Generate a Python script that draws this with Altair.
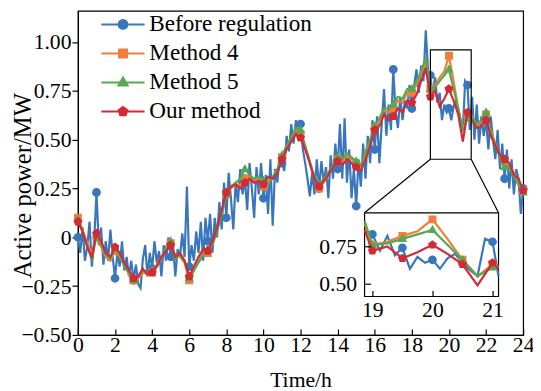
import altair as alt
import numpy as np
import pandas as pd

SERIES = ["Before regulation", "Method 4", "Method 5", "Our method"]
COLORS = ["#3a76bb", "#ef7f3a", "#56a950", "#d42a35"]

# Before regulation, sampled every 0.125 h (8 values per hour)
before = [
    0.00, -0.08, 0.05, -0.12, -0.05, 0.08, -0.15, -0.02,
    0.23, -0.04, 0.05, -0.14, -0.02, -0.12, 0.04, -0.10,
    -0.21, -0.08, -0.15, -0.02, -0.17, -0.10, -0.20, -0.12,
    -0.22, -0.14, -0.24, -0.26, -0.11, -0.04, -0.20, -0.08,
    -0.16, -0.02, -0.13, -0.07, -0.20, -0.04, -0.12, 0.00,
    -0.10, -0.04, -0.20, -0.06, -0.10, 0.02, -0.10, 0.26,
    -0.15, -0.04, -0.12, 0.03, -0.08, 0.08, -0.12, 0.10,
    -0.02, 0.12, -0.08, 0.10, 0.00, 0.18, 0.04, 0.28,
    0.10, 0.33, 0.20, 0.04, 0.28, 0.18, 0.35, 0.22,
    0.30, 0.14, 0.38, 0.25, 0.10, 0.36, 0.22, 0.38,
    0.20, 0.32, 0.12, 0.40, 0.06, 0.35, 0.28, 0.42,
    0.38, 0.34, 0.52, 0.44, 0.58, 0.48, 0.60, 0.50,
    0.58, 0.45, 0.38, 0.30, 0.21, 0.33, 0.22, 0.40,
    0.25, 0.39, 0.28, 0.36, 0.20, 0.42, 0.30, 0.48,
    0.35, 0.58, 0.30, 0.61, 0.28, 0.45, 0.20, 0.35,
    0.16, 0.40, 0.26, 0.48, 0.30, 0.52, 0.38, 0.60,
    0.45, 0.62, 0.38, 0.58, 0.76, 0.52, 0.68, 0.55,
    0.86, 0.64, 0.56, 0.72, 0.60, 0.70, 0.66, 0.78,
    0.66, 0.78, 0.86, 0.74, 0.88, 0.80, 1.06, 0.85,
    0.83, 0.72, 0.82, 0.69, 0.74, 0.60, 0.68, 0.64,
    0.66, 0.60, 0.67, 0.70, 0.64, 0.59, 0.55, 0.80,
    0.78, 0.55, 0.72, 0.50, 0.68, 0.48, 0.62, 0.52,
    0.60, 0.45, 0.62, 0.50, 0.40, 0.55, 0.35, 0.48,
    0.30, 0.45, 0.25, 0.40, 0.22, 0.35, 0.30, 0.12,
    0.25,
]

# Regulated series, sampled every 0.25 h (4 values per hour)
method4 = [
    0.10, 0.04, -0.03, -0.08,
    0.00, -0.05, -0.10, -0.12,
    -0.07, -0.10, -0.14, -0.19,
    -0.22, -0.21, -0.18, -0.19,
    -0.18, -0.14, -0.10, -0.06,
    -0.03, -0.09, -0.10, -0.13,
    -0.22, -0.17, -0.12, -0.08,
    -0.08, -0.03, 0.04, 0.13,
    0.22, 0.25, 0.27, 0.27,
    0.30, 0.31, 0.29, 0.30,
    0.26, 0.29, 0.30, 0.34,
    0.41, 0.46, 0.50, 0.55,
    0.53, 0.46, 0.38, 0.30,
    0.25, 0.28, 0.32, 0.36,
    0.40, 0.39, 0.42, 0.40,
    0.37, 0.35, 0.42, 0.49,
    0.56, 0.60, 0.65, 0.64,
    0.66, 0.70, 0.69, 0.74,
    0.74, 0.78, 0.84, 0.90,
    0.76, 0.78, 0.82, 0.85,
    0.93, 0.80, 0.66, 0.55,
    0.63, 0.61, 0.57, 0.59,
    0.63, 0.55, 0.48, 0.42,
    0.39, 0.37, 0.33, 0.29,
    0.24,
]

method5 = [
    0.09, 0.03, -0.04, -0.12,
    0.01, -0.04, -0.09, -0.11,
    -0.06, -0.09, -0.15, -0.18,
    -0.22, -0.20, -0.17, -0.18,
    -0.17, -0.15, -0.11, -0.05,
    -0.02, -0.11, -0.09, -0.12,
    -0.21, -0.17, -0.13, -0.09,
    -0.06, -0.04, 0.03, 0.12,
    0.22, 0.26, 0.28, 0.30,
    0.35, 0.32, 0.30, 0.31,
    0.29, 0.27, 0.31, 0.35,
    0.42, 0.47, 0.51, 0.56,
    0.55, 0.47, 0.39, 0.31,
    0.27, 0.30, 0.33, 0.37,
    0.41, 0.40, 0.43, 0.41,
    0.39, 0.37, 0.44, 0.50,
    0.57, 0.61, 0.66, 0.66,
    0.68, 0.72, 0.71, 0.76,
    0.76, 0.80, 0.85, 0.92,
    0.76, 0.77, 0.80, 0.83,
    0.86, 0.76, 0.66, 0.55,
    0.61, 0.62, 0.58, 0.60,
    0.64, 0.54, 0.47, 0.41,
    0.36, 0.36, 0.31, 0.27,
    0.23,
]

ours = [
    0.08, 0.03, -0.05, -0.10,
    0.02, -0.02, -0.08, -0.10,
    -0.05, -0.08, -0.13, -0.17,
    -0.21, -0.20, -0.16, -0.19,
    -0.18, -0.15, -0.10, -0.07,
    -0.04, -0.10, -0.08, -0.12,
    -0.20, -0.15, -0.10, -0.06,
    -0.07, -0.02, 0.05, 0.14,
    0.23, 0.26, 0.27, 0.25,
    0.28, 0.30, 0.28, 0.29,
    0.27, 0.31, 0.30, 0.33,
    0.40, 0.45, 0.49, 0.53,
    0.51, 0.45, 0.38, 0.30,
    0.26, 0.29, 0.32, 0.36,
    0.39, 0.37, 0.40, 0.38,
    0.36, 0.34, 0.40, 0.47,
    0.55, 0.57, 0.63, 0.60,
    0.62, 0.66, 0.64, 0.70,
    0.69, 0.73, 0.80, 0.86,
    0.72, 0.75, 0.67, 0.71,
    0.76, 0.70, 0.63, 0.49,
    0.64, 0.60, 0.56, 0.57,
    0.60, 0.52, 0.47, 0.42,
    0.40, 0.38, 0.32, 0.30,
    0.24,
]

h_fine = [round(i * 0.125, 3) for i in range(len(before))]
h_coarse = [round(i * 0.25, 2) for i in range(len(ours))]

frames = []
for name, hs, vs in [(SERIES[0], h_fine, before), (SERIES[1], h_coarse, method4),
                     (SERIES[2], h_coarse, method5), (SERIES[3], h_coarse, ours)]:
    frames.append(pd.DataFrame({"h": hs, "v": vs, "series": name}))
df = pd.concat(frames, ignore_index=True)
df["mk_main"] = np.isclose(df["h"] % 1, 0)
df["mk_inset"] = np.isclose((df["h"] * 2) % 1, 0)

FONT = "Liberation Serif"
TXT = dict(labelFont=FONT, labelFontSize=22, labelColor="black",
           titleFont=FONT, titleFontSize=22, titleFontWeight="normal", titleColor="black")
W, H = 452, 329
XD, YD = [0, 24], [-0.5, 1.16]
IXD, IXR = [18.87, 21.1], [291, 427]
IYD, IYR = [0.415, 0.974], [290, 205]

L = 4.9
SHAPES = [
    f"M{-L},0H{L}M1,0A1,1,0,1,1,-1,0A1,1,0,1,1,1,0Z",
    f"M{-L},0H{L}M-0.9,-0.9H0.9V0.9H-0.9Z",
    f"M{-L},0H{L}M0,-1.15L1.05,0.7L-1.05,0.7Z",
    f"M{-L},0H{L}M0,-1.05L1,-0.32L0.62,0.85L-0.62,0.85L-1,-0.32Z",
]
MSIZE = 80
LW = 2.2

# ---------- main panel ----------
x_main_axis = alt.Axis(values=list(range(0, 25, 2)), ticks=False, grid=False,
                       domainColor="black", domainWidth=1.2, labelPadding=0,
                       labelFlush=False, title="Time/h", titlePadding=14, **TXT)
y_txt = dict(TXT, titleFontSize=25)
y_main_axis = alt.Axis(values=[-0.5, -0.25, 0, 0.25, 0.5, 0.75, 1.0],
                       labelExpr="datum.value == 0 ? '0' : format(datum.value, '.2f')",
                       tickSize=6, tickColor="black", tickWidth=1.2, grid=False,
                       domainColor="black", domainWidth=1.2, labelPadding=1,
                       labelFlush=False, title="Active power/MW",
                       titleX=-48, titleY=177, titleAngle=270, titleAlign="center",
                       titleBaseline="alphabetic", **y_txt)
X = alt.X("h:Q", scale=alt.Scale(domain=XD, nice=False, zero=False), axis=x_main_axis)
Y = alt.Y("v:Q", scale=alt.Scale(domain=YD, nice=False, zero=False), axis=y_main_axis)

main_layers = []
for s, c, shp in zip(SERIES, COLORS, SHAPES):
    d = df[df.series == s]
    main_layers.append(alt.Chart(d).mark_line(strokeWidth=LW, color=c).encode(x=X, y=Y))
    main_layers.append(alt.Chart(d[d.mk_main]).mark_point(
        filled=True, size=MSIZE, opacity=1, color=c, shape=shp).encode(x=X, y=Y))

zoom_box = pd.DataFrame({"h": [19.0], "h2": [21.2], "v": [0.40], "v2": [0.96]})
zoom_rect = alt.Chart(zoom_box).mark_rect(fill="transparent", stroke="black", strokeWidth=1.2).encode(
    x=X, x2="h2", y=Y, y2="v2")


def px_to_h(px):
    return XD[0] + px / W * (XD[1] - XD[0])


def py_to_v(py):
    return YD[1] - py / H * (YD[1] - YD[0])


conn = pd.DataFrame({"h": [19.0, 21.2], "v": [0.40, 0.40],
                     "h2": [px_to_h(IXR[0]), px_to_h(IXR[1])],
                     "v2": [py_to_v(IYR[1]), py_to_v(IYR[1])]})
conn_rule = alt.Chart(conn).mark_rule(color="black", strokeWidth=1.2).encode(
    x=X, y=Y, x2="h2", y2="v2")

leg = alt.Legend(title=None, orient="none", legendX=34, legendY=2,
                 labelFont=FONT, labelFontSize=23.5, labelColor="black",
                 symbolSize=MSIZE, symbolStrokeWidth=2, labelOffset=15,
                 rowPadding=4.5, labelLimit=0)
legend_layer = alt.Chart(df[df.mk_main]).transform_filter("false").mark_point(
    filled=True, size=MSIZE, strokeWidth=2, opacity=1).encode(
    x=X, y=Y,
    fill=alt.Fill("series:N", scale=alt.Scale(domain=SERIES, range=COLORS), legend=leg),
    stroke=alt.Stroke("series:N", scale=alt.Scale(domain=SERIES, range=COLORS), legend=leg),
    shape=alt.Shape("series:N", scale=alt.Scale(domain=SERIES, range=SHAPES), legend=leg))

main_group = alt.layer(*main_layers, zoom_rect, conn_rule, legend_layer)

tick_axis_main = alt.Axis(orient="top", offset=-H, values=list(range(0, 25, 2)), labels=False,
                          domain=False, ticks=True, tickSize=6, tickColor="black", tickWidth=1.2,
                          grid=False, title=None, zindex=1)
T1 = alt.Chart(pd.DataFrame({"h": [0.0], "v": [0.0]})).mark_point(opacity=0).encode(
    x=alt.X("h:Q", scale=alt.Scale(domain=XD, nice=False, zero=False), axis=tick_axis_main),
    y=alt.Y("v:Q", scale=alt.Scale(domain=YD, nice=False, zero=False), axis=None))

# ---------- inset ----------
XI_scale = alt.Scale(domain=IXD, range=IXR, nice=False, zero=False, clamp=True)
YI_scale = alt.Scale(domain=IYD, range=IYR, nice=False, zero=False, clamp=True)
XI = alt.X("h:Q", scale=XI_scale, axis=alt.Axis(orient="bottom", offset=-(H - IYR[0]), values=[19, 20, 21],
                                                ticks=False, domain=False, grid=False, title=None,
                                                labelPadding=3, labelFlush=False, **TXT))
YI = alt.Y("v:Q", scale=YI_scale, axis=alt.Axis(orient="left", offset=-IXR[0], values=[0.5, 0.75],
                                                format=".2f", ticks=False, domain=False, grid=False,
                                                title=None, labelPadding=8, labelFlush=False, **TXT))

inset_box = pd.DataFrame({"h": [IXD[0]], "h2": [IXD[1]], "v": [IYD[0]], "v2": [IYD[1]]})
inset_layers = [alt.Chart(inset_box).mark_rect(fill="white", stroke="black", strokeWidth=1.2).encode(
    x=XI, x2="h2", y=YI, y2="v2")]
for s, c, shp in zip(SERIES, COLORS, SHAPES):
    d = df[df.series == s]
    lo, hi = (18.875, 21.125) if s == SERIES[0] else (18.75, 21.25)
    dl = d[(d.h >= lo) & (d.h <= hi)]
    dm = d[d.mk_inset & (d.h >= 19) & (d.h <= 21)]
    inset_layers.append(alt.Chart(dl).mark_line(strokeWidth=LW, color=c).encode(x=XI, y=YI))
    inset_layers.append(alt.Chart(dm).mark_point(
        filled=True, size=MSIZE, opacity=1, color=c, shape=shp).encode(x=XI, y=YI))
inset_group = alt.layer(*inset_layers)

T2 = alt.Chart(pd.DataFrame({"h": [20.0], "v": [0.7]})).mark_point(opacity=0).encode(
    x=alt.X("h:Q", scale=XI_scale, axis=alt.Axis(orient="top", offset=-IYR[0], values=[19, 20, 21],
                                                 labels=False, domain=False, tickSize=6, tickColor="black",
                                                 tickWidth=1.2, grid=False, title=None, zindex=1)),
    y=alt.Y("v:Q", scale=YI_scale, axis=alt.Axis(orient="right", offset=-(W - IXR[0]), values=[0.5, 0.75],
                                                 labels=False, domain=False, tickSize=6, tickColor="black",
                                                 tickWidth=1.2, grid=False, title=None, zindex=1)))

chart = alt.layer(main_group, T1, inset_group, T2).resolve_scale(
    x="independent", y="independent"
).properties(
    width=W, height=H,
    autosize=alt.AutoSizeParams(type="none"),
    padding={"left": 71, "top": 0, "right": 10, "bottom": 54},
).configure_view(
    stroke="black", strokeWidth=1.2
).configure_axis(**TXT)

chart.save("out.html", embed_options={"renderer": "svg", "actions": False})
